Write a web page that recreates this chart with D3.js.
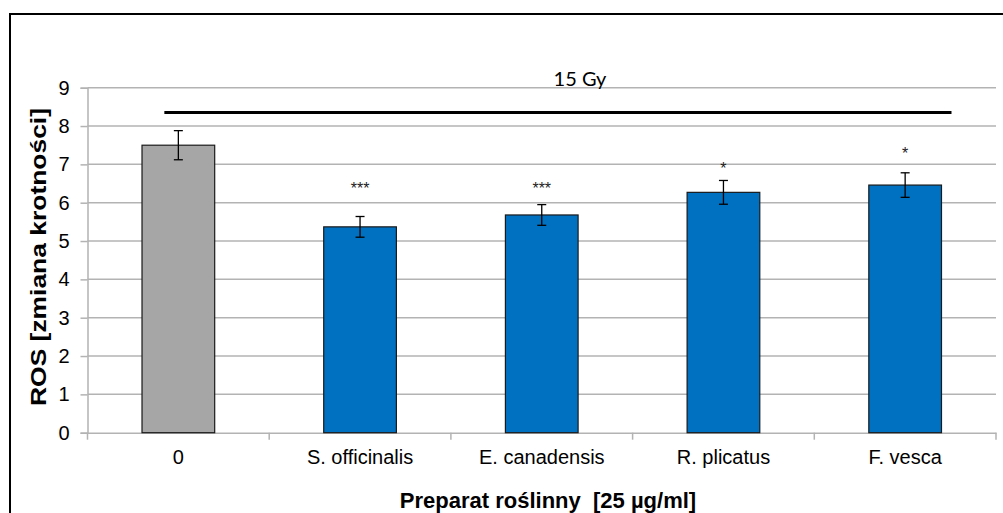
<!DOCTYPE html>
<html>
<head>
<meta charset="utf-8">
<script src="https://cdn.jsdelivr.net/npm/d3@7/dist/d3.min.js"></script>
<style>
  html, body { margin: 0; padding: 0; background: #fff; }
  svg { display: block; }
</style>
</head>
<body>
<svg id="chart" width="1003" height="513"></svg>
<script>
// Plant extracts (25 µg/ml) vs. ROS fold change after 15 Gy
const categories = ["0", "S. officinalis", "E. canadensis", "R. plicatus", "F. vesca"];
const values = [7.5, 5.37, 5.68, 6.27, 6.46];
const errors = [0.38, 0.27, 0.27, 0.31, 0.32];
const significance = ["", "***", "***", "*", "*"];
const significanceLevel = [null, 6.44, 6.44, 6.96, 7.36];
const yTicks = [0, 1, 2, 3, 4, 5, 6, 7, 8, 9];
const groupLabel = "15 Gy";
const groupLineValue = 8.35;

const svg = d3.select("#chart");
const W = 1003, H = 513;
const sans = "Liberation Sans, Arial, sans-serif";

// outer frame
svg.append("rect")
  .attr("x", 10).attr("y", 14)
  .attr("width", W + 20).attr("height", H + 20)
  .attr("fill", "none").attr("stroke", "#000").attr("stroke-width", 2);

const plot = { left: 87.5, right: 996, top: 87.7, bottom: 432.7 };

const x = d3.scaleBand()
  .domain(categories)
  .range([plot.left, plot.right])
  .paddingInner(0.6)
  .paddingOuter(0.3);

const y = d3.scaleLinear()
  .domain([0, 9])
  .range([plot.bottom, plot.top]);

const gridColor = "#b3b3b3";

// horizontal gridlines
svg.append("g")
  .selectAll("line")
  .data(yTicks.filter(d => d > 0))
  .join("line")
  .attr("x1", plot.left).attr("x2", plot.right)
  .attr("y1", d => y(d)).attr("y2", d => y(d))
  .attr("stroke", gridColor).attr("stroke-width", 1.5);

// y axis
const yAxis = svg.append("g")
  .attr("transform", `translate(${plot.left},0)`)
  .call(d3.axisLeft(y).tickValues(yTicks).tickSize(7).tickPadding(11).tickFormat(d3.format("d")));
yAxis.select(".domain").attr("stroke", gridColor).attr("stroke-width", 1.5);
yAxis.selectAll(".tick line").attr("stroke", gridColor).attr("stroke-width", 1.5);
yAxis.selectAll(".tick text")
  .attr("font-family", sans)
  .attr("font-size", 20).attr("fill", "#000");

// x axis
const xAxis = svg.append("g")
  .attr("transform", `translate(0,${plot.bottom})`)
  .call(d3.axisBottom(x).tickSize(0).tickPadding(17));
xAxis.select(".domain").attr("stroke", gridColor).attr("stroke-width", 1.5);
xAxis.selectAll(".tick text")
  .attr("font-family", sans)
  .attr("font-size", 20).attr("fill", "#000");

// category separator ticks
const boundaries = d3.range(categories.length + 1).map(i => plot.left + i * (plot.right - plot.left) / categories.length);
svg.append("g")
  .selectAll("line")
  .data(boundaries)
  .join("line")
  .attr("x1", d => d).attr("x2", d => d)
  .attr("y1", plot.bottom).attr("y2", plot.bottom + 7)
  .attr("stroke", gridColor).attr("stroke-width", 1.5);

// bars
svg.append("g")
  .selectAll("rect")
  .data(categories)
  .join("rect")
  .attr("x", d => x(d))
  .attr("y", (d, i) => y(values[i]))
  .attr("width", x.bandwidth())
  .attr("height", (d, i) => y(0) - y(values[i]))
  .attr("fill", (d, i) => i === 0 ? "#a6a6a6" : "#0070c0")
  .attr("stroke", "#1a1a1a").attr("stroke-width", 1.2);

// error bars
const eb = svg.append("g").attr("stroke", "#000").attr("stroke-width", 1.3);
categories.forEach((c, i) => {
  const cx = x(c) + x.bandwidth() / 2;
  const y1 = y(values[i] + errors[i]);
  const y2 = y(values[i] - errors[i]);
  eb.append("line").attr("x1", cx).attr("x2", cx).attr("y1", y1).attr("y2", y2);
  eb.append("line").attr("x1", cx - 4.5).attr("x2", cx + 4.5).attr("y1", y1).attr("y2", y1);
  eb.append("line").attr("x1", cx - 4.5).attr("x2", cx + 4.5).attr("y1", y2).attr("y2", y2);
});

// significance markers
svg.append("g")
  .selectAll("text")
  .data(categories.filter((d, i) => significance[i]))
  .join("text")
  .attr("x", d => x(d) + x.bandwidth() / 2)
  .attr("y", d => y(significanceLevel[categories.indexOf(d)]) + 8)
  .attr("text-anchor", "middle")
  .attr("font-family", sans)
  .attr("font-size", 16).attr("fill", "#222")
  .text(d => significance[categories.indexOf(d)]);

// group bracket line with label
const lineX1 = x(categories[0]) + x.bandwidth() / 2 - 14;
const lineX2 = x(categories[categories.length - 1]) + x.bandwidth() + 10;
svg.append("line")
  .attr("x1", lineX1).attr("x2", lineX2)
  .attr("y1", y(groupLineValue)).attr("y2", y(groupLineValue))
  .attr("stroke", "#000").attr("stroke-width", 3);
svg.append("text")
  .attr("x", 580)
  .attr("y", 86)
  .attr("text-anchor", "middle")
  .attr("font-family", "Lato, Open Sans, sans-serif")
  .attr("font-size", 20).attr("fill", "#000")
  .text(groupLabel);

// axis titles
svg.append("text")
  .attr("transform", "translate(46,257) rotate(-90)")
  .attr("text-anchor", "middle")
  .attr("font-family", sans)
  .attr("font-weight", "bold")
  .attr("font-size", 22).attr("fill", "#000")
  .attr("textLength", 298).attr("lengthAdjust", "spacingAndGlyphs")
  .text("ROS [zmiana krotności]");

svg.append("text")
  .attr("x", 548)
  .attr("y", 508)
  .attr("text-anchor", "middle")
  .attr("font-family", sans)
  .attr("font-weight", "bold")
  .attr("font-size", 22).attr("fill", "#000")
  .style("white-space", "pre")
  .text("Preparat roślinny  [25 µg/ml]");
</script>
</body>
</html>
